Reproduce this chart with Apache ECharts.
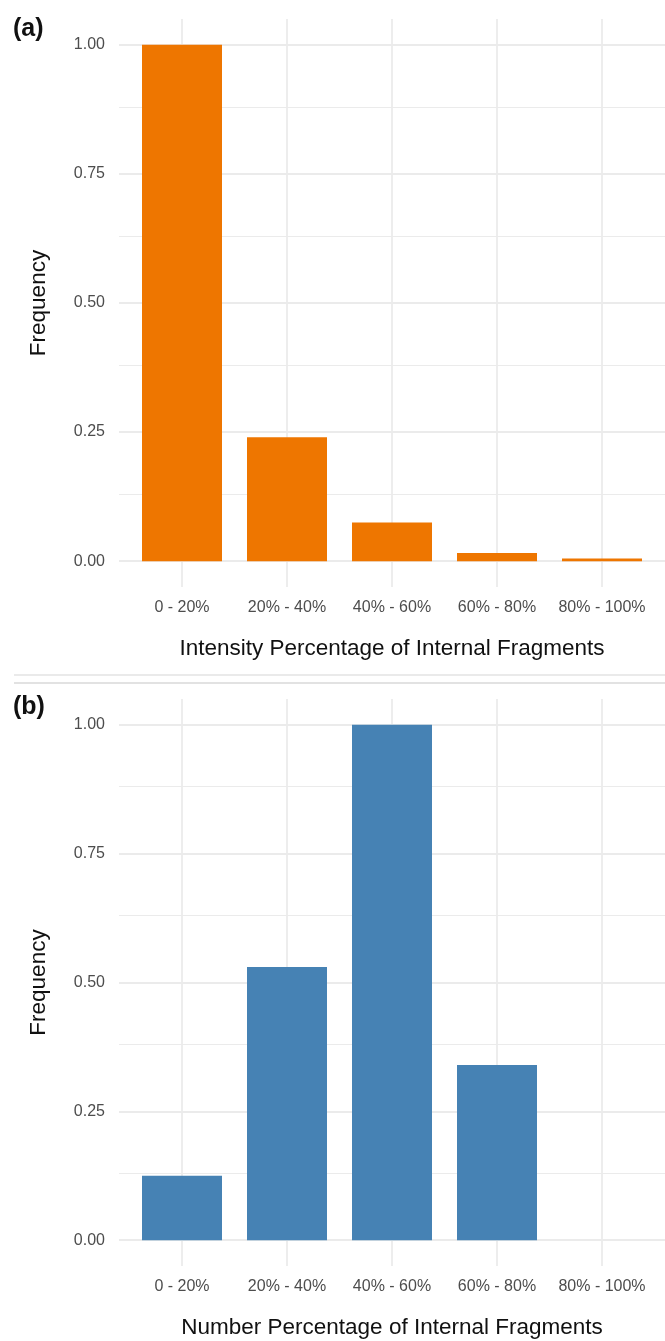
<!DOCTYPE html>
<html>
<head>
<meta charset="utf-8">
<script src="https://cdn.jsdelivr.net/npm/echarts@6/dist/echarts.min.js"></script>
<style>
  html, body { margin: 0; padding: 0; background: #fff; }
  #chart { width: 665px; height: 1341px; }
</style>
</head>
<body>
<div id="chart"></div>
<script>
const categories = ["0 - 20%", "20% - 40%", "40% - 60%", "60% - 80%", "80% - 100%"];
const intensityFreq = [1.0, 0.24, 0.075, 0.016, 0.005];
const numberFreq = [0.125, 0.53, 1.0, 0.34, 0];
const yTicks = [0, 0.25, 0.5, 0.75, 1];
const yMinor = [0.125, 0.375, 0.625, 0.875];
const xTitles = ["Intensity Percentage of Internal Fragments", "Number Percentage of Internal Fragments"];
const panelTags = ["(a)", "(b)"];

const font = "Liberation Sans, Arial, sans-serif";
const gridColor = "#EBEBEB";
const xPos = categories.map((c, i) => i + 1);

// gridlines drawn as markLines so the panel can run from -0.05 to 1.05 like ggplot
function gridLines() {
  const data = [];
  yTicks.forEach((v) => data.push({ yAxis: v, lineStyle: { width: 1.8 } }));
  yMinor.forEach((v) => data.push({ yAxis: v, lineStyle: { width: 1 } }));
  xPos.forEach((v) => data.push({ xAxis: v, lineStyle: { width: 1.8 } }));
  return {
    silent: true,
    z: 1,
    symbol: "none",
    label: { show: false },
    lineStyle: { color: gridColor, type: "solid" },
    animation: false,
    data,
  };
}

function xAxis(i) {
  return {
    type: "value",
    gridIndex: i,
    min: 0.4,
    max: 5.6,
    axisLine: { show: false },
    axisTick: { show: false },
    splitLine: { show: false },
    axisLabel: {
      customValues: xPos,
      formatter: (v) => categories[Math.round(v) - 1],
      color: "#4D4D4D",
      fontSize: 16,
      fontFamily: font,
      margin: 13,
    },
    name: xTitles[i],
    nameLocation: "middle",
    nameGap: 50,
    nameTextStyle: { color: "#111", fontSize: 22.5, fontFamily: font },
  };
}

function yAxis(i) {
  return {
    type: "value",
    gridIndex: i,
    min: -0.05,
    max: 1.05,
    axisLine: { show: false },
    axisTick: { show: false },
    splitLine: { show: false },
    axisLabel: {
      customValues: yTicks,
      formatter: (v) => v.toFixed(2),
      color: "#4D4D4D",
      fontSize: 16,
      fontFamily: font,
      margin: 14,
    },
    name: "Frequency",
    nameLocation: "middle",
    nameGap: 69,
    nameTextStyle: { color: "#111", fontSize: 22.5, fontFamily: font },
  };
}

function barSeries(i, values, color) {
  return {
    type: "bar",
    xAxisIndex: i,
    yAxisIndex: i,
    barWidth: 80,
    itemStyle: { color },
    data: values.map((v, k) => [xPos[k], v]),
    markLine: gridLines(),
  };
}

const chart = echarts.init(document.getElementById("chart"));
chart.setOption({
  animation: false,
  backgroundColor: "#fff",
  grid: [
    { left: 119, top: 19, width: 550, height: 568 },
    { left: 119, top: 699, width: 550, height: 567 },
  ],
  xAxis: [xAxis(0), xAxis(1)],
  yAxis: [yAxis(0), yAxis(1)],
  series: [
    barSeries(0, intensityFreq, "#EE7600"),
    barSeries(1, numberFreq, "#4682B4"),
  ],
  graphic: [
    {
      type: "text", left: 13, top: 17,
      style: { text: panelTags[0], font: "bold 25px " + font, fill: "#111" },
    },
    {
      type: "text", left: 13, top: 695,
      style: { text: panelTags[1], font: "bold 25px " + font, fill: "#111" },
    },
    {
      type: "line", shape: { x1: 14, y1: 675, x2: 665, y2: 675 },
      style: { stroke: "#E3E3E3", lineWidth: 1.5 },
    },
    {
      type: "line", shape: { x1: 14, y1: 683, x2: 665, y2: 683 },
      style: { stroke: "#D9D9D9", lineWidth: 1.5 },
    },
  ],
});
</script>
</body>
</html>
